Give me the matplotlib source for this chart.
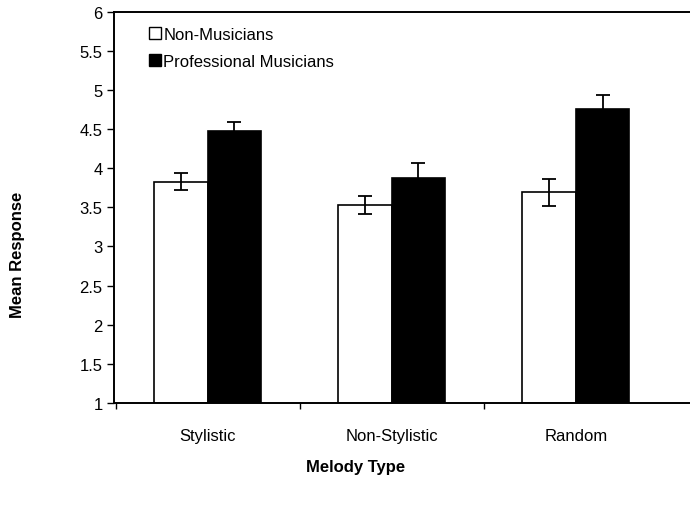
import numpy as np
import matplotlib
matplotlib.use("Agg")
import matplotlib.pyplot as plt
from matplotlib.patches import Patch

plt.rcParams['font.family'] = ['Liberation Sans', 'DejaVu Sans']

categories = ['Stylistic', 'Non-Stylistic', 'Random']
non_musicians = [3.83, 3.53, 3.69]
non_musicians_err = [0.11, 0.12, 0.17]
professionals = [4.47, 3.87, 4.76]
professionals_err = [0.12, 0.20, 0.17]
y_ticks = [1, 1.5, 2, 2.5, 3, 3.5, 4, 4.5, 5, 5.5, 6]
y_tick_labels = ['1', '1.5', '2', '2.5', '3', '3.5', '4', '4.5', '5', '5.5', '6']

fig = plt.figure(figsize=(6.9, 5.1), dpi=100)
ax = fig.add_axes([0.165, 0.208, 0.835, 0.767])

x = np.arange(len(categories))
w = 0.29
base = 1

# bars start at the axis floor (1), not at zero
ax.bar(x - w / 2, np.array(non_musicians) - base, w, bottom=base,
       color='white', edgecolor='black', linewidth=1.2)
ax.bar(x + w / 2, np.array(professionals) - base, w, bottom=base,
       color='black', edgecolor='black', linewidth=1.2)
ax.errorbar(x - w / 2, non_musicians, yerr=non_musicians_err, fmt='none',
            ecolor='black', elinewidth=1.3, capsize=5, capthick=1.3)
ax.errorbar(x + w / 2, professionals, yerr=professionals_err, fmt='none',
            ecolor='black', elinewidth=1.3, capsize=5, capthick=1.3)

ax.set_ylim(1, 6)
ax.set_xlim(-0.51, 2.62)
ax.set_yticks(y_ticks)
ax.set_yticklabels(y_tick_labels)
ax.set_xticks([-0.5, 0.5, 1.5])
ax.set_xticklabels([])
ax.set_xticks(x, minor=True)
ax.set_xticklabels(categories, minor=True)
ax.tick_params(axis='x', which='minor', length=0, pad=18, labelsize=12)
ax.tick_params(axis='x', which='major', length=4, width=1, direction='out')
ax.tick_params(axis='y', length=5, width=1, direction='out', labelsize=12, pad=3)

ax.spines['right'].set_visible(False)
for s in ['left', 'bottom', 'top']:
    ax.spines[s].set_linewidth(1.4)

handles = [Patch(facecolor='white', edgecolor='black', linewidth=1),
           Patch(facecolor='black', edgecolor='black', linewidth=1)]
ax.legend(handles, ['Non-Musicians', 'Professional Musicians'],
          loc='upper left', bbox_to_anchor=(0.05, 0.978), frameon=False,
          fontsize=12, handlelength=0.72, handleheight=0.72,
          handletextpad=0.12, labelspacing=0.72, borderaxespad=0)

fig.text(0.026, 0.5, 'Mean Response', rotation=90, ha='center', va='center',
         fontsize=12, fontweight='bold')
fig.text(0.515, 0.083, 'Melody Type', ha='center', va='center',
         fontsize=12, fontweight='bold')

fig.savefig('out.png', dpi=100)
